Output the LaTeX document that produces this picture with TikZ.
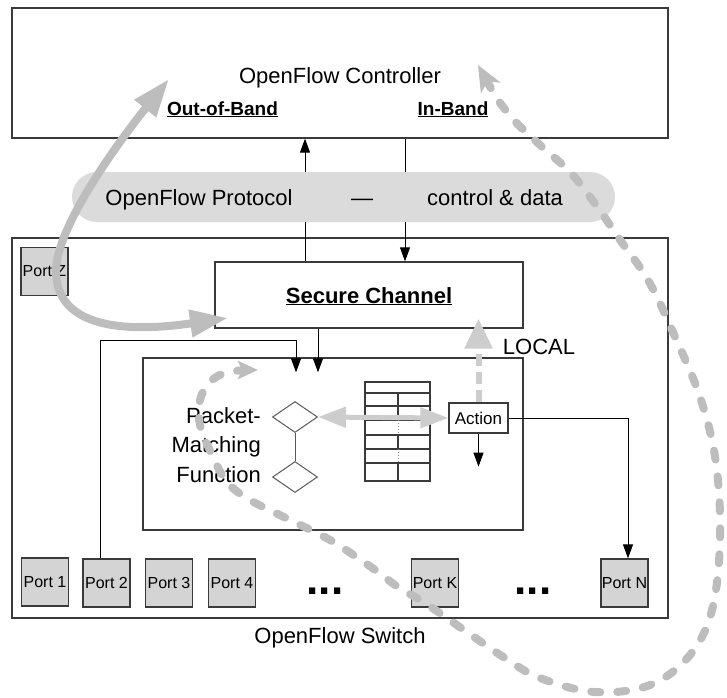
\documentclass[tikz,border=0pt]{standalone}
\usepackage{fontspec}
\setmainfont{Liberation Sans}
\usetikzlibrary{arrows.meta,shapes.geometric}
\definecolor{boxline}{HTML}{3A3A3A}
\definecolor{portfill}{HTML}{D4D4D4}
\definecolor{pillfill}{HTML}{DBDBDB}
\definecolor{bigarrow}{HTML}{BDBDBD}
\definecolor{lightarrow}{HTML}{CDCDCD}
\begin{document}
\begin{tikzpicture}[x=1pt,y=-1pt,
  frame/.style={draw=boxline, line width=1.3pt, inner sep=0pt},
  portbox/.style={draw=boxline, fill=portfill, line width=1.3pt, inner sep=0pt,
    minimum width=47pt, minimum height=48pt, font=\fontsize{16}{18}\selectfont},
  lbl/.style={inner sep=0pt, font=\fontsize{22}{26}\selectfont},
  blbl/.style={inner sep=0pt, font=\fontsize{22}{26}\selectfont\bfseries},
  sublbl/.style={inner sep=0pt, font=\fontsize{19}{22}\selectfont\bfseries},
  dotlbl/.style={inner sep=0pt, anchor=base, font=\fontsize{44}{48}\selectfont\bfseries},
  conn/.style={draw=black, line width=1pt},
  blacktip/.style={-{Triangle[length=14pt,width=10pt]}},
  tblline/.style={draw=boxline, line width=1.3pt},
  diam/.style={diamond, draw=black!65, line width=1pt, minimum width=45pt, minimum height=31pt, inner sep=0pt},
  bigarr/.style={draw=bigarrow, line width=8pt,
    {Triangle[length=38pt,width=26pt]}-{Triangle[length=38pt,width=26pt]}},
  inband/.style={draw=bigarrow, line width=8pt, line cap=round, dash pattern=on 9pt off 17pt,
    {Stealth[length=26pt,width=22pt,inset=7pt]}-{Stealth[length=20pt,width=18pt,inset=4pt]}},
  locarr/.style={draw=lightarrow, line width=6pt, dash pattern=on 12pt off 6pt,
    -{Triangle[length=30pt,width=27pt]}},
  dblarr/.style={draw=lightarrow, line width=5pt,
    {Triangle[length=28pt,width=20pt]}-{Triangle[length=28pt,width=20pt]}}
]
\useasboundingbox (0,0) rectangle (727,697);

% main boxes
\node[frame, minimum width=656pt, minimum height=130pt] (ctrl) at (340,73) {};
\node[frame, minimum width=656pt, minimum height=380pt] (sw) at (340,428) {};
\node[frame, minimum width=308pt, minimum height=66pt] (sc) at (369,295) {};
\node[frame, minimum width=380pt, minimum height=172pt] (inner) at (333,444) {};

% ports
\node[portbox] (pZ) at (44.5,271.5) {Port Z};
\node[portbox] (p1) at (45,582) {Port 1};
\node[portbox] (p2) at (106.5,583) {Port 2};
\node[portbox] (p3) at (169,583) {Port 3};
\node[portbox] (p4) at (232,583) {Port 4};
\node[portbox] (pK) at (435,583) {Port K};
\node[portbox] (pN) at (624.5,583) {Port N};
\node[dotlbl] (dots1) at (325,594) {...};
\node[dotlbl] (dots2) at (533,594) {...};

% texts
\node[lbl, anchor=base] (ctrlT) at (340,83) {OpenFlow Controller};
\node[sublbl, anchor=base] (oob) at (222.5,115) {\underline{Out-of-Band}};
\node[sublbl, anchor=base] (ib) at (453,115) {\underline{In-Band}};
\node[blbl, anchor=base] (scT) at (369,303) {\underline{Secure Channel}};
\node[lbl, anchor=base] (local) at (539,354) {LOCAL};
\node[lbl, anchor=base east] (pm1) at (261,423) {Packet-};
\node[lbl, anchor=base east] (pm2) at (261,452) {Matching};
\node[lbl, anchor=base east] (pm3) at (261,482) {Function};
\node[lbl, anchor=base] (swT) at (340,643) {OpenFlow Switch};

% matching function diamonds
\node[diam] (d1) at (295,417) {};
\node[diam] (d2) at (295,477) {};
\draw[draw=black!65, line width=1pt] (d1.south) -- (d2.north);

% flow table
\node[draw=boxline, line width=1.3pt, minimum width=65pt, minimum height=99pt, inner sep=0pt] (tbl) at (397.5,431.5) {};
\foreach \yy in {393,406,420,435,449,463} \draw[tblline] (365,\yy) -- (430,\yy);
\draw[tblline] (398,393) -- (398,420);
\draw[tblline] (398,435) -- (398,449);
\draw[tblline] (398,463) -- (398,481);
\draw[draw=black!45, line width=1pt, dotted] (398,420) -- (398,435);
\draw[draw=black!45, line width=1pt, dotted] (398,449) -- (398,463);

% action
\node[frame, minimum width=59pt, minimum height=30pt, font=\fontsize{17}{19}\selectfont] (act) at (478.5,418) {Action};

% black connectors
\draw[conn, blacktip] ([xshift=-64pt]sc.north) -- ([xshift=-35pt]ctrl.south);
\draw[conn, blacktip] ([xshift=65pt]ctrl.south) -- ([xshift=36pt]sc.north);
\draw[conn, blacktip] ([xshift=-51pt]sc.south) -- ([xshift=-15pt,yshift=-15pt]inner.north);
\draw[conn, blacktip] ([xshift=-6.5pt]p2.north) |- ([xshift=-37pt,yshift=17pt]inner.north) -- ([xshift=-37pt,yshift=-15pt]inner.north);
\draw[conn, blacktip] (act.east) -| ([xshift=3.5pt]pN.north);
\draw[conn, blacktip] (act.south) -- ([yshift=-33pt]act.south);

% protocol pill
\node[fill=pillfill, rounded corners=25pt, minimum width=543pt, minimum height=50pt, inner sep=0pt] (proto) at (343.5,197) {};
\node[lbl, anchor=base] (protoL) at (199,205) {OpenFlow Protocol};
\node[lbl, anchor=base] (protoD) at (362,205) {---};
\node[lbl, anchor=base] (protoR) at (495,205) {control \& data};

% gray arrows
\draw[dblarr] (d1.east) -- (act.west);
\draw[locarr] (act.north) -- ([yshift=10pt]act.north |- sc.south);

\coordinate (oobA) at (169,79);
\coordinate (oobM) at (56,272);
\coordinate (oobB) at (228,318);
\draw[bigarr] (oobA) .. controls (120,140) and (55,228) .. (oobM) .. controls (57,328) and (125,333) .. (oobB);

\draw[inband] plot[smooth, tension=0.6] coordinates {
 (478,65) (507,112) (540,145) (570,172) (596,205) (618,237) (648,280) (672,330)
 (700,397) (716,463) (720,540) (712,610) (690,655) (650,685) (595,692) (540,678)
 (505,658) (464,630) (425,603) (398,587) (371,567) (330,540) (290,520) (250,500) (227,482)
 (212,455) (200,425) (200,400) (210,382) (228,372) (258,370)};
\end{tikzpicture}
\end{document}
